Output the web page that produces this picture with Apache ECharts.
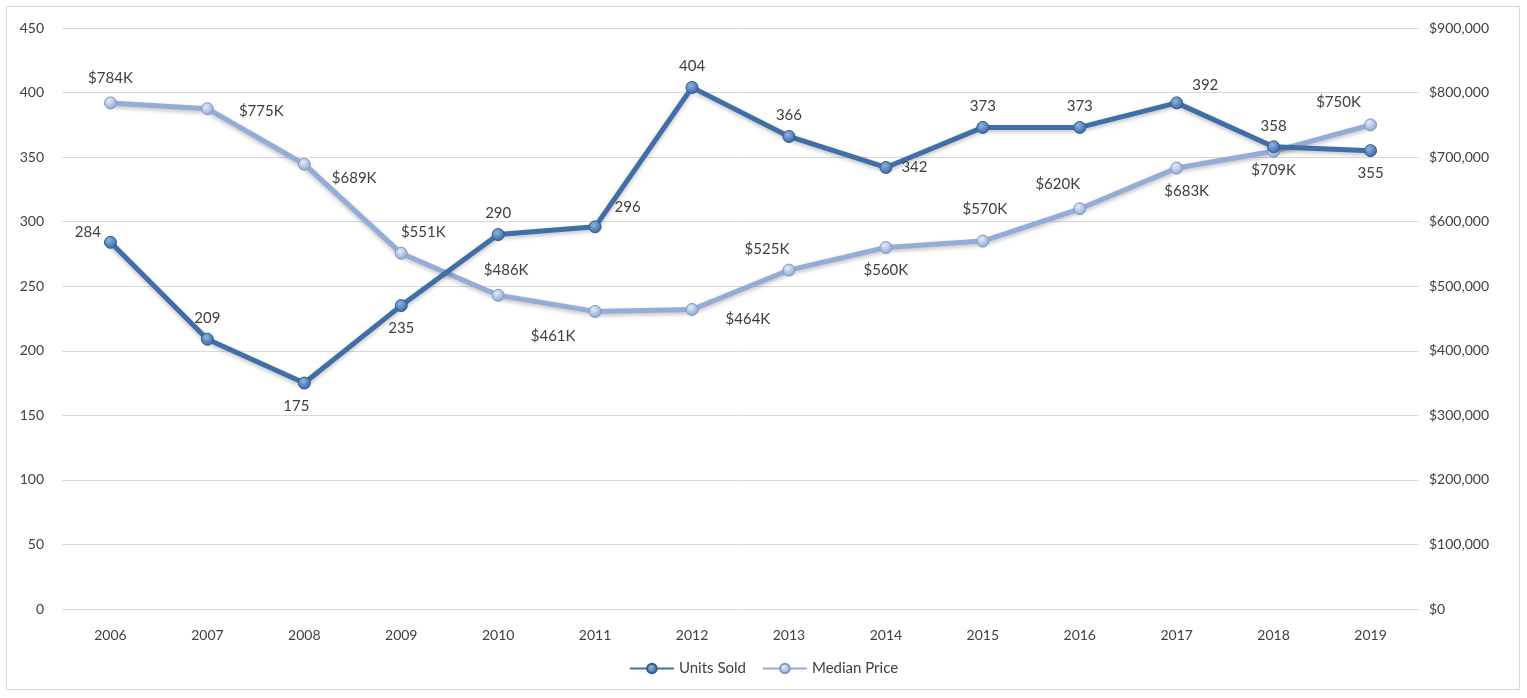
<!DOCTYPE html>
<html><head><meta charset="utf-8">
<script src="https://cdn.jsdelivr.net/npm/echarts@6/dist/echarts.min.js"></script>
<style>html,body{margin:0;padding:0;background:#fff;}#c{width:1527px;height:698px;}</style>
</head><body><div id="c"></div>
<script>
const years = ['2006','2007','2008','2009','2010','2011','2012','2013','2014','2015','2016','2017','2018','2019'];
const unitsSold = [284,209,175,235,290,296,404,366,342,373,373,392,358,355];
const medianPriceK = [784,775,689,551,486,461,464,525,560,570,620,683,709,750];
const leftTicks = {min:0, max:450, interval:50};
const rightTicks = {min:0, max:900000, interval:100000};

// label placement (position, offset) per point
const unitsLabelPos = [
  ['left',[2,-10]],['top',[0,-2]],['bottom',[-8,4]],['bottom',[0,4]],['top',[0,-2]],['right',[8,-20]],['top',[0,-2]],
  ['top',[0,-2]],['right',[4,0]],['top',[0,-2]],['top',[0,-2]],['right',[4,-18]],['top',[0,-2]],['bottom',[0,4]]
];
const priceLabelPos = [
  ['top',[0,-6]],['right',[20,2]],['right',[16,14]],['top',[22,-2]],['top',[8,-6]],['bottom',[-42,6]],['right',[22,10]],
  ['top',[-22,-2]],['bottom',[0,4]],['top',[2,-13]],['top',[-22,-6]],['bottom',[10,4]],['bottom',[0,0]],['top',[-32,-4]]
];

const darkBlue = '#3f6fa6';
const lightBlue = '#94acd8';
const txt = '#404040';
const fontFam = 'Lato, "Noto Sans", sans-serif';

function sym(color, light){
  return {
    type:'radial', x:0.4, y:0.35, r:0.7,
    colorStops:[{offset:0,color:light},{offset:1,color:color}]
  };
}

const chart = echarts.init(document.getElementById('c'));
chart.setOption({
  animation:false,
  textStyle:{fontFamily:fontFam},
  graphic:[{type:'rect', shape:{x:6.5,y:6.5,width:1513,height:683}, style:{fill:'none', stroke:'#d9d9d9', lineWidth:1}, silent:true}],
  grid:{left:62, right:108, top:28, bottom:89},
  legend:{
    bottom:17, left:'center', itemWidth:44, itemHeight:12, itemGap:16,
    textStyle:{color:txt, fontSize:15, fontFamily:fontFam},
    data:['Units Sold','Median Price']
  },
  xAxis:{
    type:'category', data:years, boundaryGap:true,
    axisLine:{show:false}, axisTick:{show:false},
    axisLabel:{color:txt, fontSize:14, margin:19}
  },
  yAxis:[
    {type:'value', min:leftTicks.min, max:leftTicks.max, interval:leftTicks.interval,
     axisLine:{show:false}, axisTick:{show:false},
     axisLabel:{color:txt, fontSize:14, margin:18},
     splitLine:{lineStyle:{color:'#d9d9d9', width:1}}},
    {type:'value', min:rightTicks.min, max:rightTicks.max, interval:rightTicks.interval,
     axisLine:{show:false}, axisTick:{show:false},
     axisLabel:{color:txt, fontSize:14, margin:10, formatter:v=>'$'+v.toLocaleString('en-US')},
     splitLine:{show:false}}
  ],
  series:[
    {
      name:'Median Price', type:'line', yAxisIndex:1, z:2,
      data: medianPriceK.map((v,i)=>({value:v*1000, label:{position:priceLabelPos[i][0], offset:priceLabelPos[i][1]}})),
      symbol:'circle', symbolSize:12,
      lineStyle:{color:lightBlue, width:5, shadowColor:'rgba(0,0,0,0.25)', shadowBlur:4, shadowOffsetY:2},
      itemStyle:{color:sym('#86a0cf','#e4ecf8'), borderColor:'#7f98c6', borderWidth:1},
      label:{show:true, color:txt, fontSize:15, formatter:p=>'$'+Math.round(p.value/1000)+'K'}
    },
    {
      name:'Units Sold', type:'line', yAxisIndex:0, z:3,
      data: unitsSold.map((v,i)=>({value:v, label:{position:unitsLabelPos[i][0], offset:unitsLabelPos[i][1]}})),
      symbol:'circle', symbolSize:12,
      lineStyle:{color:darkBlue, width:5, shadowColor:'rgba(0,0,0,0.25)', shadowBlur:4, shadowOffsetY:2},
      itemStyle:{color:sym('#2f62a0','#8fb3e0'), borderColor:'#2f5a8c', borderWidth:1},
      label:{show:true, color:txt, fontSize:15}
    }
  ]
});
</script></body></html>
